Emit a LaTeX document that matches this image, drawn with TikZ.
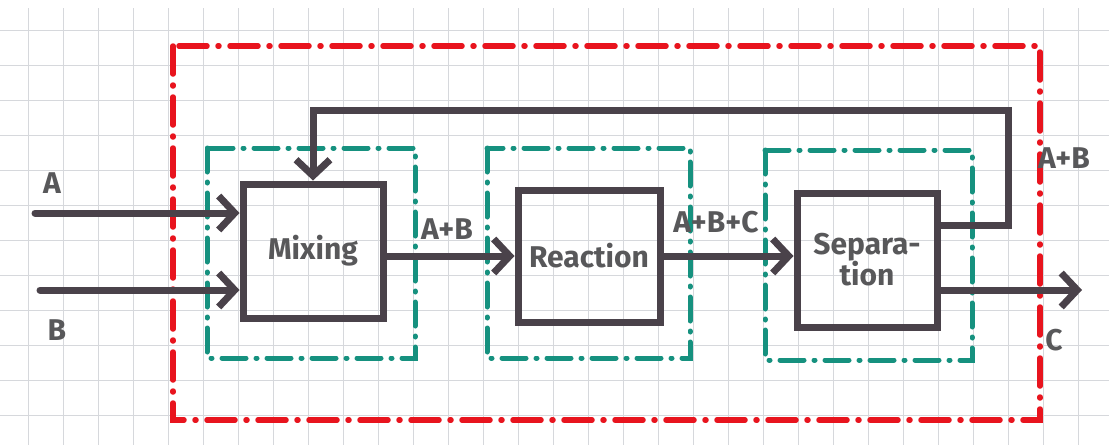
\documentclass[tikz,border=0pt]{standalone}
\usepackage{fontspec}
\setmainfont{Fira Sans}
\usetikzlibrary{arrows.meta}
\definecolor{ink}{HTML}{4A424A}
\definecolor{txt}{HTML}{58585A}
\definecolor{redline}{HTML}{E8141E}
\definecolor{greenline}{HTML}{16917F}
\definecolor{gridc}{HTML}{D6D8DC}
\tikzset{
  unit/.style={draw=ink, line width=7pt, minimum width=140pt, minimum height=134pt,
    text=txt, font=\fontsize{30}{31}\selectfont\bfseries, align=center},
  flow/.style={draw=ink, line width=7pt, line cap=round, line join=miter},
  flowarrow/.style={flow, -{Straight Barb[length=16pt, width=34pt]}},
  greenbox/.style={draw=greenline, line width=5pt, line cap=round,
    dash pattern=on 24pt off 10pt on 1pt off 10pt},
  redbox/.style={draw=redline, line width=5.5pt, line cap=round,
    dash pattern=on 28pt off 11pt on 1pt off 11pt},
  lbl/.style={text=txt, font=\fontsize{30}{31}\selectfont\bfseries, inner sep=0pt}
}
\begin{document}
\begin{tikzpicture}[x=1pt,y=-1pt]
\useasboundingbox (0,0) rectangle (1109,445);
\fill[white] (0,0) rectangle (1109,445);
% grid paper
\foreach \gx in {28,63,...,1108} \draw[gridc, line width=0.9pt] (\gx,8) -- (\gx,445);
\foreach \gy in {30,65,...,444} \draw[gridc, line width=0.9pt] (0,\gy) -- (1109,\gy);
% system boundary
\draw[redbox] (173,46) rectangle (1040,420);
% unit boundaries
\draw[greenbox] (207,148) rectangle (415,358);
\draw[greenbox] (487,148) rectangle (690,358);
\draw[greenbox] (765,150) rectangle (972,360);
% units
\node[unit] (mix) at (313,251) {Mixing};
\node[unit, minimum width=142pt, minimum height=132pt] (rea) at (589,256) {Reaction};
\node[unit, minimum height=134pt] (sep) at (867,260) {Separa-\\tion};
% feeds
\coordinate (inA) at (35,213);
\coordinate (inB) at (40,290);
\draw[flowarrow] (inA) -- (inA -| mix.west);
\draw[flowarrow] (inB) -- (inB -| mix.west);
\node[lbl] (lA) at (52,183) {A};
\node[lbl] (lB) at (57,330) {B};
% main flow
\draw[flowarrow] (rea.west -| mix.east) -- (rea.west);
\draw[flowarrow] (rea.east) -- (rea.east -| sep.west);
\node[lbl] (lAB) at (447,229) {A+B};
\node[lbl] (lABC) at (716,222) {A+B+C};
% recycle
\coordinate (r1) at (1008,110);
\coordinate (r2) at (313,110);
\draw[flowarrow] ([yshift=35pt]sep.east) -| (r1) -- (r2) -- (mix.north);
\node[lbl] (lRec) at (1064,158) {A+B};
% product
\coordinate (outC) at (1082,290);
\draw[flowarrow] (sep.east |- outC) -- (outC);
\node[lbl] (lC) at (1054,340) {C};
\end{tikzpicture}
\end{document}
